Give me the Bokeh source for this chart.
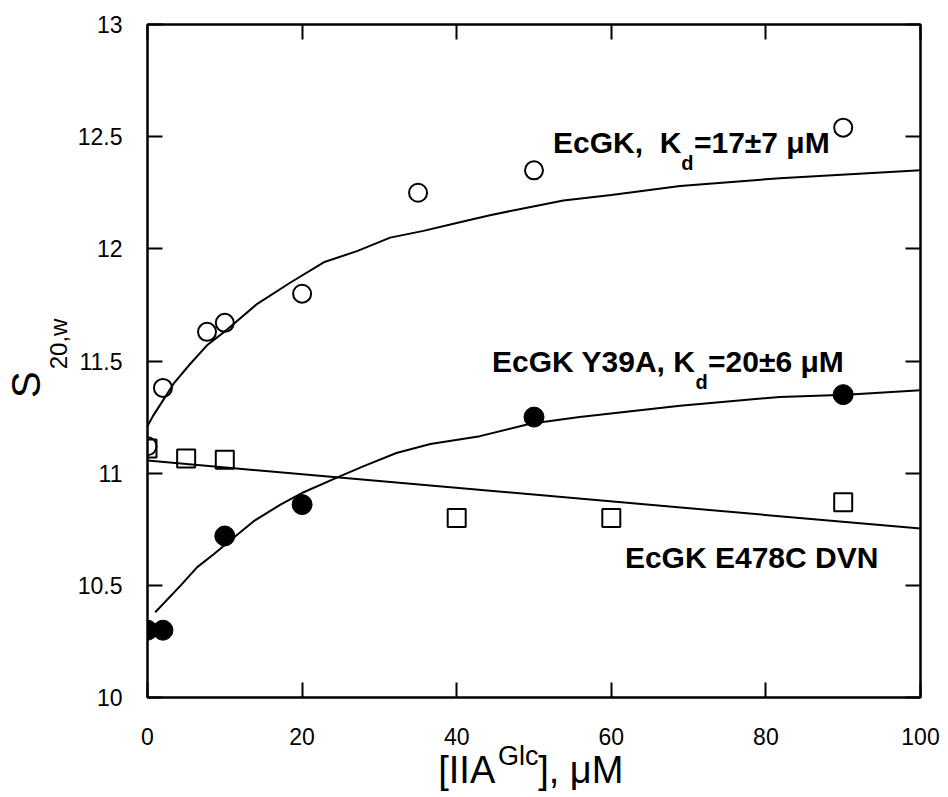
from bokeh.plotting import figure
from bokeh.models import Range1d, LinearAxis, FixedTicker, Label
from bokeh.embed import file_html
from bokeh.resources import INLINE

# ---------------- data ----------------
x_ticks = [0, 20, 40, 60, 80, 100]
x_tick_labels = ["0", "20", "40", "60", "80", "100"]
y_ticks = [10, 10.5, 11, 11.5, 12, 12.5, 13]
y_tick_labels = ["10", "10.5", "11", "11.5", "12", "12.5", "13"]

ecgk_x = [0, 2, 7.7, 10, 20, 35, 50, 90]
ecgk_y = [11.12, 11.38, 11.63, 11.67, 11.80, 12.25, 12.35, 12.54]

y39a_x = [0, 2, 10, 20, 50, 90]
y39a_y = [10.30, 10.30, 10.72, 10.86, 11.25, 11.35]

e478c_x = [0, 5, 10, 40, 60, 90]
e478c_y = [11.11, 11.065, 11.06, 10.80, 10.80, 10.87]

ecgk_fit_x = [0, 0.8, 2.3, 3.4, 5.6, 7.7, 10.3, 14.2, 18.5, 22.8, 27.1, 31.4,
              35.7, 40.0, 44.3, 48.6, 53.8, 60, 68.9, 81.8, 100]
ecgk_fit_y = [11.21, 11.26, 11.34, 11.40, 11.49, 11.57, 11.64, 11.755, 11.85,
              11.94, 11.99, 12.05, 12.08, 12.115, 12.15, 12.18, 12.215, 12.24,
              12.28, 12.315, 12.35]

y39a_fit_x = [1.0, 4.3, 6.4, 8.6, 10.7, 13.7, 17.2, 20.2, 24.5, 27.9, 32.2,
              36.6, 43.0, 49.5, 55.9, 61.1, 68.9, 81.8, 90.4, 100]
y39a_fit_y = [10.38, 10.50, 10.58, 10.64, 10.70, 10.785, 10.86, 10.915, 10.98,
              11.03, 11.09, 11.13, 11.165, 11.22, 11.25, 11.27, 11.30, 11.34,
              11.35, 11.37]

e478c_fit_x = [0, 100]
e478c_fit_y = [11.056, 10.753]

# axis-title pieces (text) and where along the axis each piece is centred
x_title_main = ["[IIA", "], \u03bcM"]
x_title_main_pos = [41.3, 56.05]
x_title_sup = ["Glc"]
x_title_sup_pos = [47.96]
y_title_main = ["S"]
y_title_main_pos = [11.395]
y_title_sub = ["20,w"]
y_title_sub_pos = [11.576]

# ---------------- figure ----------------
FONT = "Liberation Sans"

p = figure(width=948, height=797, output_backend="svg", toolbar_location=None,
           x_range=Range1d(0, 100), y_range=Range1d(10, 13),
           min_border_left=147, min_border_right=28,
           min_border_top=24, min_border_bottom=100,
           background_fill_color="white", border_fill_color="white")
p.grid.visible = False
p.outline_line_color = "black"
p.outline_line_width = 2


def key(t):
    return int(t) if float(t).is_integer() else t


def style_axis(ax, ticks, labels, show_labels=True, standoff=23):
    ax.ticker = FixedTicker(ticks=ticks)
    ax.major_label_overrides = {key(t): l for t, l in zip(ticks, labels)}
    ax.axis_line_color = "black"
    ax.axis_line_width = 2
    ax.major_tick_line_color = "black"
    ax.major_tick_line_width = 2
    ax.major_tick_in = 15
    ax.major_tick_out = 0
    ax.minor_tick_line_color = None
    ax.major_label_text_font = FONT
    ax.major_label_text_font_size = "23px"
    if show_labels:
        ax.major_label_text_color = "black"
        ax.major_label_standoff = standoff
    else:
        ax.major_label_text_color = None
        ax.major_label_standoff = 0


style_axis(p.xaxis[0], x_ticks, x_tick_labels, True, 30)
style_axis(p.yaxis[0], y_ticks, y_tick_labels, True, 25)

top_ax = LinearAxis()
style_axis(top_ax, x_ticks, x_tick_labels, False)
p.add_layout(top_ax, "above")
right_ax = LinearAxis()
style_axis(right_ax, y_ticks, y_tick_labels, False)
p.add_layout(right_ax, "right")


def text_axis(positions, texts, size, standoff, side, vertical=False):
    ax = LinearAxis(ticker=FixedTicker(ticks=positions),
                    major_label_overrides={key(t): s for t, s in zip(positions, texts)},
                    axis_line_color=None, major_tick_line_color=None,
                    minor_tick_line_color=None, major_tick_in=0,
                    major_tick_out=0, major_label_standoff=standoff,
                    major_label_text_font=FONT,
                    major_label_text_font_size=f"{size}px",
                    major_label_text_color="black")
    if vertical:
        ax.major_label_orientation = "vertical"
    p.add_layout(ax, side)
    return ax


# x-axis title:  [IIA^Glc], uM  (stacked below the tick labels)
text_axis(x_title_sup_pos, x_title_sup, 27, -7, "below")
text_axis(x_title_main_pos, x_title_main, 38, -25, "below")
# y-axis title:  s_20,w
text_axis(y_title_sub_pos, y_title_sub, 24, 2, "left", vertical=True)
text_axis(y_title_main_pos, y_title_main, 40, -6, "left", vertical=True)

# fitted curves
p.line(ecgk_fit_x, ecgk_fit_y, line_color="black", line_width=2)
p.line(y39a_fit_x, y39a_fit_y, line_color="black", line_width=2)
p.line(e478c_fit_x, e478c_fit_y, line_color="black", line_width=2)

# data points
p.scatter(e478c_x, e478c_y, marker="square", size=18, fill_color=None,
          line_color="black", line_width=2)
p.scatter(ecgk_x, ecgk_y, marker="circle", size=18, fill_color=None,
          line_color="black", line_width=2)
p.scatter(y39a_x, y39a_y, marker="circle", size=20, fill_color="black",
          line_color="black", line_width=1)


def lab(x, y, text, size, xoff=0, yoff=0):
    p.add_layout(Label(x=x, y=y, text=text, x_offset=xoff,
                       y_offset=yoff + 0.42 * size,
                       text_font=FONT, text_font_size=f"{size}px",
                       text_font_style="bold", text_color="black",
                       text_align="left", text_baseline="alphabetic"))


# annotations inside the plot
lab(52.45, 12.416, "EcGK, \u00a0K", 30)
lab(52.45, 12.416, "d", 20, xoff=128.4, yoff=-16)
lab(52.45, 12.416, "=17\u00b17 \u03bcM", 30, xoff=141)

lab(44.57, 11.44, "EcGK Y39A, K", 30)
lab(44.57, 11.44, "d", 20, xoff=203.4, yoff=-16)
lab(44.57, 11.44, "=20\u00b16 \u03bcM", 30, xoff=216)

lab(61.76, 10.566, "EcGK E478C DVN", 30)

open("out.html", "w").write(file_html(p, INLINE))
